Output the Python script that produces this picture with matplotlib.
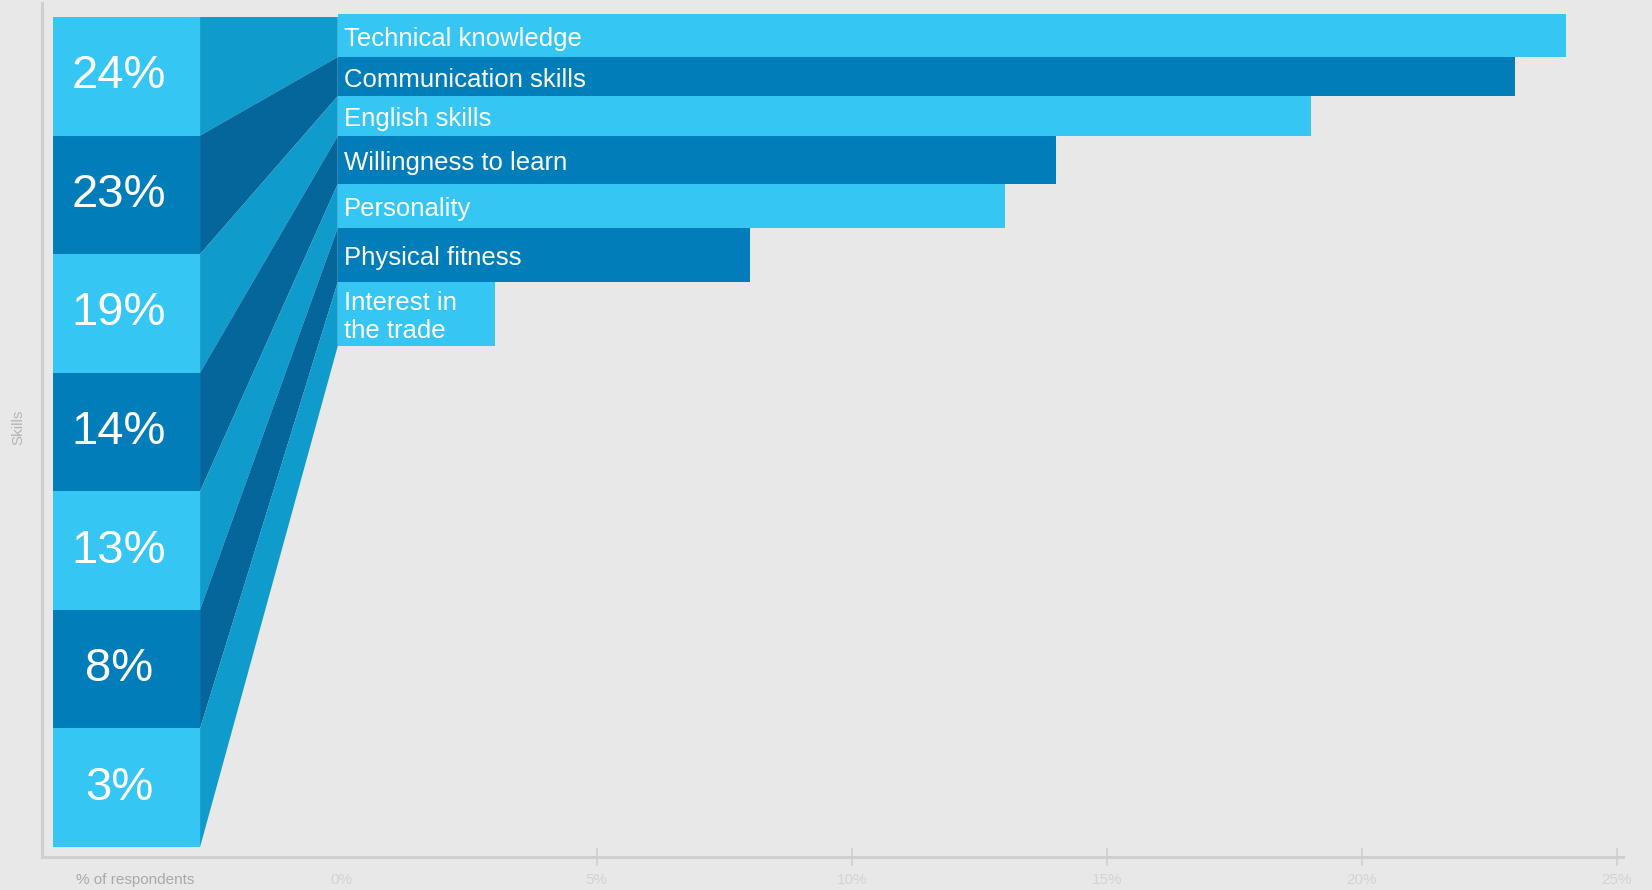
import numpy as np
import matplotlib.pyplot as plt
from matplotlib.patches import Polygon, Rectangle

plt.rcParams['font.family'] = ['Liberation Sans', 'DejaVu Sans']

skills = ['Technical knowledge', 'Communication skills', 'English skills',
          'Willingness to learn', 'Personality', 'Physical fitness',
          'Interest in\nthe trade']
share = np.array([24, 23, 19, 14, 13, 8, 3])
xticks = [0, 5, 10, 15, 20, 25]

# layout of the label column (row units) and the funnel
row_h = [0.363, 0.329, 0.337, 0.405, 0.371, 0.455, 0.540]
row_top = -0.025
col_left, col_right = -5.67, -2.78
bar_left = -0.08

light, dark = '#35c6f4', '#017eba'
link_light, link_dark = '#0f9bcb', '#04669a'
bg = '#e7e8e7'

fig = plt.figure(figsize=(16.52, 8.90), dpi=100, facecolor=bg)
ax = fig.add_axes([0.0254, 0.0371, 0.957, 0.9595], facecolor=bg)

edges = row_top + np.concatenate([[0], np.cumsum(row_h)])
n = len(skills)
for i in range(n):
    c = light if i % 2 == 0 else dark
    cl = link_light if i % 2 == 0 else link_dark
    top, bot = edges[i], edges[i + 1]
    # block with the percentage on the left
    ax.add_patch(Rectangle((col_left, i), col_right - col_left, 1, color=c, lw=0))
    ax.text(col_left + 0.45 * (col_right - col_left), i + 0.5, f'{share[i]}%',
            color='white', fontsize=34, ha='center', va='center')
    # funnel piece joining the block and the bar
    link_top = max(top, 0) if i == 0 else top
    ax.add_patch(Polygon([(col_right, i), (col_right, i + 1), (bar_left, bot),
                          (bar_left, link_top)], closed=True, color=cl, lw=0))
    ax.barh((top + bot) / 2, share[i], height=bot - top, left=0, color=c, lw=0)
    ax.barh((top + bot) / 2, -bar_left, height=bot - top, left=bar_left, color=c, lw=0)
    ax.text(0.04, (top + bot) / 2 + 0.025, skills[i], color='white', fontsize=18.5,
            ha='left', va='center', linespacing=1.2)

ax.set_xlim(-5.88, 25.12)
ax.set_ylim(7.084, -0.118)

for s in ['top', 'right']:
    ax.spines[s].set_visible(False)
for s in ['left', 'bottom']:
    ax.spines[s].set_color('#cfcfcf')
    ax.spines[s].set_linewidth(2.2)

ax.set_yticks([])
ax.set_xticks(xticks)
ax.set_xticklabels([f'{t}%' for t in xticks],
                   family=['Liberation Sans Narrow', 'Liberation Sans'])
ax.tick_params(axis='x', direction='inout', length=13, width=1.2, color='#cfcfcf',
               labelcolor='#d3d3d3', labelsize=11, pad=5)
ax.xaxis.get_major_ticks()[0].tick1line.set_visible(False)

fig.text(135 / 1652, 1 - 880 / 890, '% of respondents', color='#a9a9a9',
         fontsize=11, ha='center', va='center')
fig.text(18 / 1652, 1 - 427 / 890, 'Skills', color='#b5b5b5', fontsize=11,
         rotation=90, ha='center', va='center')

fig.savefig('out.png', dpi=100, facecolor=bg)
